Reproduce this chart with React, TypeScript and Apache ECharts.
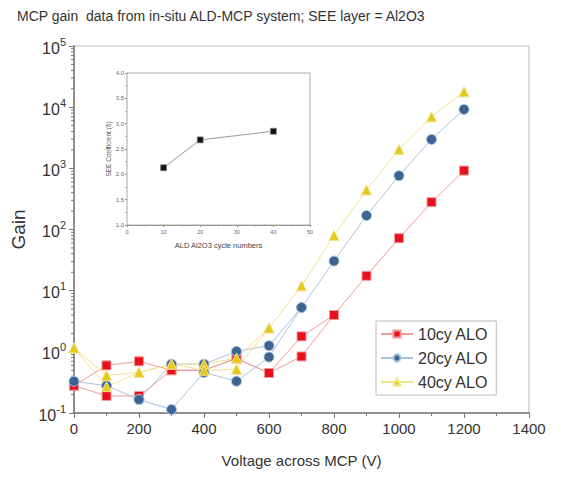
import React, { useEffect, useRef } from "react";
import * as echarts from "echarts";

const titleText = "MCP gain  data from in-situ ALD-MCP system; SEE layer = Al2O3";
const seriesNames = ["10cy ALO", "20cy ALO", "40cy ALO"];

// Voltage (V), Gain — first sweep
const red10A: [number, number][] = [[0, 0.28], [100, 0.6], [200, 0.7], [300, 0.5], [400, 0.5], [500, 0.78], [600, 0.45], [700, 1.79], [800, 4.0], [900, 17.5], [1000, 72], [1100, 280], [1200, 920]];
// second sweep
const red10B: [number, number][] = [[800, 4.0], [700, 0.84], [600, 0.45], [500, 0.78], [400, 0.5], [300, 0.5], [200, 0.19], [100, 0.19], [0, 0.28]];

const blue20A: [number, number][] = [[0, 0.33], [100, 0.28], [200, 0.166], [300, 0.114], [400, 0.46], [500, 0.33], [600, 0.82], [700, 5.3], [800, 30.5], [900, 169], [1000, 757], [1100, 2970], [1200, 9200]];
const blue20B: [number, number][] = [[700, 5.3], [600, 1.26], [500, 1.02], [400, 0.63], [300, 0.63], [200, 0.166]];

const yellow40A: [number, number][] = [[0, 1.16], [100, 0.41], [200, 0.46], [300, 0.63], [400, 0.63], [500, 0.79], [600, 2.45], [700, 12], [800, 80], [900, 443], [1000, 2040], [1100, 6950], [1200, 17800]];
const yellow40B: [number, number][] = [[600, 2.45], [500, 0.52], [400, 0.5], [300, 0.63], [200, 0.46], [100, 0.27], [0, 1.16]];

// Inset: SEE coefficient vs ALD cycles
const insetCycles = [10, 20, 40];
const insetSEE = [2.13, 2.68, 2.85];

const minorMultipliers = [2, 3, 4, 5, 6, 7, 8, 9];
const decades = [0.1, 1, 10, 100, 1000, 10000];

const FONT = "Liberation Sans, Arial, sans-serif";

export default function App() {
  const ref = useRef<HTMLDivElement>(null);
  useEffect(() => {
    document.body.style.margin = "0";
    if (!ref.current) return;
    const chart = echarts.init(ref.current, undefined, { renderer: "svg" });

    const minorVals: [number, number][] = [];
    decades.forEach((d) => minorMultipliers.forEach((m) => minorVals.push([0, d * m])));

    const red = "#e8101c";
    const blue = "#3d6390";
    const yellow = "#e6c81a";

    const mk = (name: string, data: [number, number][], color: string, lineColor: string, symbol: string, size: number) => ({
      type: "line",
      name,
      data,
      xAxisIndex: 0,
      yAxisIndex: 0,
      symbol,
      symbolSize: size,
      itemStyle: { color, borderColor: lineColor, borderWidth: 1 },
      lineStyle: { color: lineColor, width: 1 },
      z: 3,
    });

    chart.setOption({
      animation: false,
      textStyle: { fontFamily: FONT },
      title: {
        text: titleText,
        left: 12,
        top: 4,
        textStyle: { fontSize: 14, fontWeight: "normal", color: "#333", fontFamily: FONT },
      },
      legend: {
        data: seriesNames,
        orient: "vertical",
        left: 376,
        top: 321,
        itemWidth: 32,
        itemHeight: 9,
        itemGap: 8,
        padding: [5, 8, 5, 4],
        borderColor: "#bbb",
        borderWidth: 1,
        textStyle: { fontSize: 16, color: "#333", fontFamily: FONT },
      },
      grid: [
        { left: 74, top: 46, right: 45, bottom: 64, show: true, borderColor: "#bbb", borderWidth: 1 },
        { left: 127, top: 73, width: 183, height: 152, show: true, borderColor: "#aaa", borderWidth: 1, backgroundColor: "#fff", z: 5 },
      ],
      xAxis: [
        {
          type: "value",
          gridIndex: 0,
          min: 0,
          max: 1400,
          interval: 200,
          name: "Voltage across MCP (V)",
          nameLocation: "middle",
          nameGap: 40,
          nameTextStyle: { fontSize: 15, color: "#333" },
          axisLine: { show: true, lineStyle: { color: "#777", width: 1.5 } },
          axisTick: { show: true, length: 5, lineStyle: { color: "#777" } },
          minorTick: { show: true, splitNumber: 2, length: 3, lineStyle: { color: "#777" } },
          splitLine: { show: false },
          axisLabel: { fontSize: 15, color: "#333", margin: 8, formatter: (v: number) => String(v) },
        },
        {
          type: "value",
          gridIndex: 1,
          min: 0,
          max: 50,
          interval: 10,
          name: "ALD Al2O3 cycle numbers",
          nameLocation: "middle",
          nameGap: 16,
          nameTextStyle: { fontSize: 7.5, color: "#444" },
          axisLine: { show: true, lineStyle: { color: "#888" } },
          axisTick: { show: true, length: 2, lineStyle: { color: "#888" } },
          minorTick: { show: true, splitNumber: 2, length: 1.5 },
          splitLine: { show: false },
          axisLabel: { fontSize: 5.5, color: "#666", margin: 4 },
        },
      ],
      yAxis: [
        {
          type: "log",
          logBase: 10,
          gridIndex: 0,
          min: 0.1,
          max: 100000,
          name: "Gain",
          nameLocation: "middle",
          nameGap: 43,
          nameRotate: 90,
          nameTextStyle: { fontSize: 19, color: "#333" },
          axisLine: { show: true, lineStyle: { color: "#777", width: 1.5 } },
          axisTick: { show: true, length: 5, lineStyle: { color: "#777" } },
          splitLine: { show: false },
          axisLabel: {
            margin: 8,
            formatter: (v: number) => `{b|10}{s|${Math.round(Math.log10(v))}}`,
            rich: {
              b: { fontSize: 16, color: "#333", lineHeight: 20, verticalAlign: "bottom" },
              s: { fontSize: 11, color: "#333", lineHeight: 20, verticalAlign: "top" },
            },
          },
        },
        {
          type: "value",
          gridIndex: 1,
          min: 1,
          max: 4,
          interval: 0.5,
          name: "SEE Coefficient (\u03b4)",
          nameLocation: "middle",
          nameGap: 15,
          nameRotate: 90,
          nameTextStyle: { fontSize: 6.5, color: "#555" },
          axisLine: { show: true, lineStyle: { color: "#888" } },
          axisTick: { show: true, length: 2, lineStyle: { color: "#888" } },
          minorTick: { show: true, splitNumber: 2, length: 1.5 },
          splitLine: { show: false },
          axisLabel: { fontSize: 6, color: "#666", margin: 3, formatter: (v: number) => v.toFixed(1) },
        },
      ],
      series: [
        mk(seriesNames[0], red10A, red, "#f29a9a", "rect", 9),
        mk(seriesNames[0], red10B, red, "#f29a9a", "rect", 9),
        mk(seriesNames[1], blue20A, blue, "#a9c2de", "circle", 10),
        mk(seriesNames[1], blue20B, blue, "#a9c2de", "circle", 10),
        mk(seriesNames[2], yellow40A, yellow, "#f2e28c", "triangle", 10),
        mk(seriesNames[2], yellow40B, yellow, "#f2e28c", "triangle", 10),
        {
          type: "custom",
          name: "minorY",
          xAxisIndex: 0,
          yAxisIndex: 0,
          silent: true,
          clip: false,
          data: minorVals,
          renderItem: (params: any, api: any) => {
            const p = api.coord([api.value(0), api.value(1)]);
            return {
              type: "line",
              shape: { x1: p[0] - 3, y1: p[1], x2: p[0], y2: p[1] },
              style: { stroke: "#777", lineWidth: 1 },
            };
          },
          z: 2,
        },
        {
          type: "line",
          name: "inset",
          xAxisIndex: 1,
          yAxisIndex: 1,
          data: insetCycles.map((c, i) => [c, insetSEE[i]]),
          symbol: "rect",
          symbolSize: 6,
          itemStyle: { color: "#111", borderColor: "#888", borderWidth: 0.8 },
          lineStyle: { color: "#999", width: 1 },
          z: 6,
        },
      ],
    });
    return () => chart.dispose();
  }, []);
  return <div ref={ref} style={{ width: 574, height: 477 }} />;
}
